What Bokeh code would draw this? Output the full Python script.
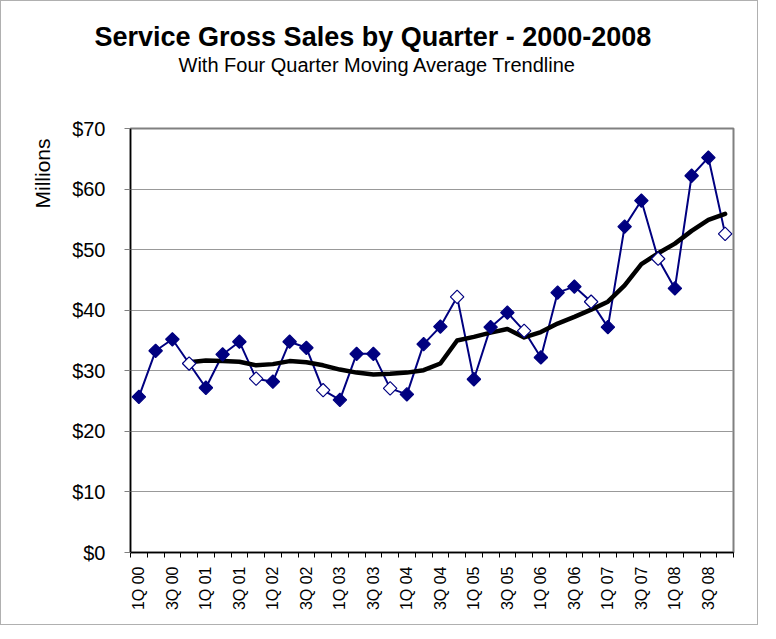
import math
from bokeh.plotting import figure
from bokeh.models import FixedTicker, NumeralTickFormatter, Title, Range1d, ColumnDataSource
from bokeh.embed import file_html
from bokeh.resources import INLINE

quarters = ["1Q 00", "2Q 00", "3Q 00", "4Q 00",
            "1Q 01", "2Q 01", "3Q 01", "4Q 01",
            "1Q 02", "2Q 02", "3Q 02", "4Q 02",
            "1Q 03", "2Q 03", "3Q 03", "4Q 03",
            "1Q 04", "2Q 04", "3Q 04", "4Q 04",
            "1Q 05", "2Q 05", "3Q 05", "4Q 05",
            "1Q 06", "2Q 06", "3Q 06", "4Q 06",
            "1Q 07", "2Q 07", "3Q 07", "4Q 07",
            "1Q 08", "2Q 08", "3Q 08", "4Q 08"]

sales = [25.7, 33.3, 35.2, 31.2,
         27.2, 32.7, 34.8, 28.7,
         28.2, 34.8, 33.8, 26.8,
         25.2, 32.8, 32.8, 27.1,
         26.1, 34.4, 37.3, 42.2,
         28.6, 37.2, 39.6, 36.6,
         32.2, 42.9, 43.9, 41.4,
         37.2, 53.8, 58.1, 48.5,
         43.6, 62.2, 65.2, 52.6]

moving_avg = [None, None, None, 31.4,
              31.7, 31.6, 31.5, 30.9,
              31.1, 31.6, 31.4, 30.9,
              30.2, 29.7, 29.4, 29.5,
              29.7, 30.1, 31.2, 35.0,
              35.6, 36.3, 36.9, 35.5,
              36.4, 37.8, 38.9, 40.1,
              41.4, 44.1, 47.6, 49.4,
              51.0, 53.1, 54.9, 55.9]

y_ticks = [0, 10, 20, 30, 40, 50, 60, 70]

title_text = "Service Gross Sales by Quarter - 2000-2008"
subtitle_text = "With Four Quarter Moving Average Trendline"
y_label = "Millions"

FONT = "Liberation Sans"
NAVY = "#000080"

xs = list(range(len(quarters)))

p = figure(width=758, height=625, output_backend="svg", toolbar_location=None,
           x_range=Range1d(-0.5, len(quarters) - 0.5), y_range=Range1d(0, 70),
           min_border_left=129, min_border_right=26, min_border_top=127, min_border_bottom=74,
           background_fill_color="white", border_fill_color="white")
p.styles = {"border": "1px solid #b0b0b0"}

p.title.text = ""
p.title.visible = False

spacer = Title(text=" ", align="left", text_font=FONT, text_font_size="1px",
               text_color="white", standoff=50)
p.add_layout(spacer, "above")
sub = Title(text=subtitle_text, align="left", text_font=FONT, text_font_size="20px",
            text_font_style="normal", text_color="black", standoff=0, offset=48)
p.add_layout(sub, "above")
main = Title(text=title_text, align="left", text_font=FONT, text_font_size="27px",
             text_font_style="bold", text_color="black", standoff=0, offset=-36)
p.add_layout(main, "above")

ylab = Title(text=y_label, align="right", text_font=FONT, text_font_size="21px",
             text_font_style="normal", text_color="black", standoff=32, offset=10)
p.add_layout(ylab, "left")

# grid & outline
p.xgrid.visible = False
p.ygrid.ticker = FixedTicker(ticks=y_ticks)
p.ygrid.grid_line_color = "#999999"
p.ygrid.grid_line_width = 1
p.outline_line_color = "#808080"
p.outline_line_width = 2

# x axis
xa = p.xaxis[0]
xa.ticker = FixedTicker(ticks=xs[::2], minor_ticks=[i - 0.5 for i in range(len(quarters) + 1)])
xa.major_label_overrides = {i: quarters[i] for i in xs[::2]}
xa.major_label_orientation = math.pi / 2
xa.major_tick_line_color = None
xa.major_tick_out = 0
xa.major_tick_in = 0
xa.minor_tick_line_color = "black"
xa.minor_tick_out = 5
xa.minor_tick_in = 0
xa.axis_line_color = "black"
xa.axis_line_width = 1.5
xa.major_label_text_font = FONT
xa.major_label_text_font_size = "16px"
xa.major_label_text_color = "black"
xa.major_label_standoff = 9

# y axis
ya = p.yaxis[0]
ya.ticker = FixedTicker(ticks=y_ticks)
ya.formatter = NumeralTickFormatter(format="$0")
ya.minor_tick_line_color = None
ya.major_tick_out = 6
ya.major_tick_in = 0
ya.major_tick_line_color = "#808080"
ya.axis_line_color = "black"
ya.axis_line_width = 1.5
ya.major_label_text_font = FONT
ya.major_label_text_font_size = "20px"
ya.major_label_text_color = "black"
ya.major_label_standoff = 19

src = ColumnDataSource(dict(
    x=xs, sales=sales, ma=[float("nan") if v is None else v for v in moving_avg],
    fill=["white" if q.startswith("4Q") else NAVY for q in quarters],
))

p.line("x", "sales", source=src, line_color=NAVY, line_width=2)
p.line("x", "ma", source=src, line_color="black", line_width=4.5, line_join="round", line_cap="round")
p.scatter("x", "sales", source=src, marker="square", angle=math.pi / 4, size=9.5,
          fill_color="fill", line_color=NAVY, line_width=1.2)

open("out.html", "w").write(file_html(p, INLINE))
